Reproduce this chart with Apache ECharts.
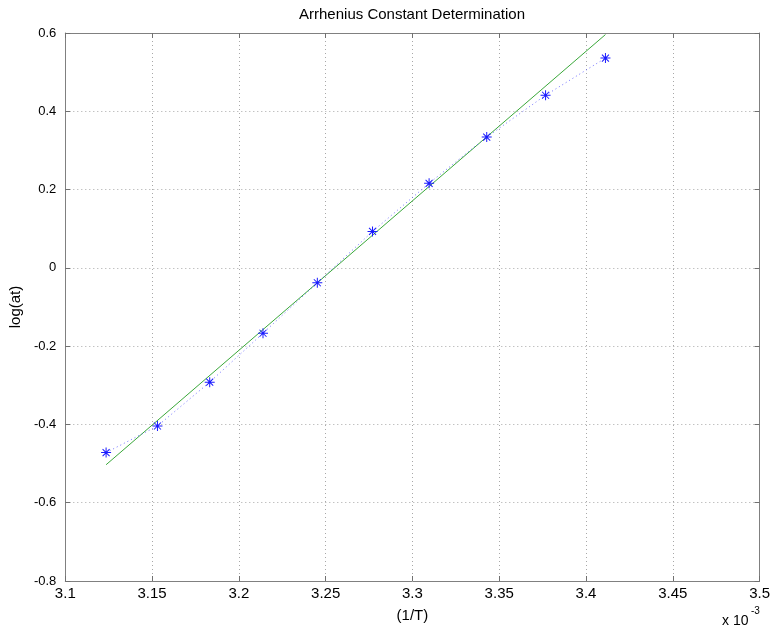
<!DOCTYPE html>
<html>
<head>
<meta charset="utf-8">
<script src="https://cdn.jsdelivr.net/npm/echarts@6/dist/echarts.min.js"></script>
<style>
html,body{margin:0;padding:0;background:#fff;}
#chart{width:773px;height:629px;}
</style>
</head>
<body>
<div id="chart"></div>
<script>
// 1/T values (x 10^-3)
var invT = [3.1235, 3.1531, 3.1832, 3.2139, 3.2452, 3.2770, 3.3096, 3.3428, 3.3767, 3.4112];
// measured log(at)
var logAt = [-0.472, -0.404, -0.292, -0.167, -0.038, 0.093, 0.216, 0.334, 0.441, 0.536];
// linear fit endpoints
var fitX = [3.1235, 3.4112];
var fitY = [-0.503, 0.596];

var FONT = '"Liberation Sans", Arial, sans-serif';
var asterisk = 'path://M-10,-1 L10,-1 L10,1 L-10,1 Z M-1,-10 L1,-10 L1,10 L-1,10 Z ' +
  'M-6.3,-7.7 L7.7,6.3 L6.3,7.7 L-7.7,-6.3 Z M-7.7,6.3 L6.3,-7.7 L7.7,-6.3 L-6.3,7.7 Z';

function pairs(xs, ys) { return xs.map(function (x, i) { return [x, ys[i]]; }); }

var axisLine = { show: true, onZero: false, lineStyle: { color: '#808080', width: 1 } };
var tick = { show: true, inside: true, length: 5, lineStyle: { color: '#707070' } };
var grid = { show: true, lineStyle: { color: '#a8a8a8', type: [1, 3], width: 1 } };

var chart = echarts.init(document.getElementById('chart'), null, { renderer: 'canvas' });
chart.setOption({
  animation: false,
  backgroundColor: '#fff',
  grid: { left: 63, right: 12, top: 33, bottom: 48, containLabel: false },
  xAxis: [{
    type: 'value', min: 3.1, max: 3.5, interval: 0.05,
    axisLine: axisLine, axisTick: tick, splitLine: grid,
    axisLabel: { color: '#000', fontFamily: FONT, fontSize: 15, margin: 5,
      formatter: function (v) { return String(parseFloat(v.toFixed(2))); } },
    name: '(1/T)', nameLocation: 'middle', nameGap: 27,
    nameTextStyle: { color: '#000', fontFamily: FONT, fontSize: 15 }
  }, {
    type: 'value', position: 'top', min: 3.1, max: 3.5, interval: 0.05,
    axisLine: axisLine, axisTick: tick, splitLine: { show: false }, axisLabel: { show: false }
  }],
  yAxis: [{
    type: 'value', min: -0.8, max: 0.6, interval: 0.2,
    axisLine: axisLine, axisTick: tick, splitLine: grid,
    axisLabel: { color: '#000', fontFamily: FONT, fontSize: 13, margin: 9,
      formatter: function (v) { return String(parseFloat(v.toFixed(2))); } },
    name: 'log(at)', nameLocation: 'middle', nameGap: 41, nameRotate: 90,
    nameTextStyle: { color: '#000', fontFamily: FONT, fontSize: 15 }
  }, {
    type: 'value', position: 'right', min: -0.8, max: 0.6, interval: 0.2,
    axisLine: axisLine, axisTick: tick, splitLine: { show: false }, axisLabel: { show: false }
  }],
  series: [{
    type: 'line', data: pairs(fitX, fitY), symbol: 'none',
    lineStyle: { color: '#3aa83a', width: 1 }, z: 2
  }, {
    type: 'line', data: pairs(invT, logAt),
    symbol: asterisk, symbolSize: 10,
    itemStyle: { color: '#1a1aff' },
    lineStyle: { color: '#4d4dff', width: 1, type: [1, 3], opacity: 0.8 }, z: 3
  }],
  graphic: [
    { type: 'text', style: { text: 'Arrhenius Constant Determination', x: 412, y: 15,
      align: 'center', verticalAlign: 'middle', font: '15px ' + FONT, fill: '#000' } },
    { type: 'text', style: { text: 'x 10', x: 722, y: 621, align: 'left', verticalAlign: 'middle',
      font: '14px ' + FONT, fill: '#000' } },
    { type: 'text', style: { text: '-3', x: 751, y: 611, align: 'left', verticalAlign: 'middle',
      font: '10px ' + FONT, fill: '#000' } }
  ]
});
</script>
</body>
</html>
